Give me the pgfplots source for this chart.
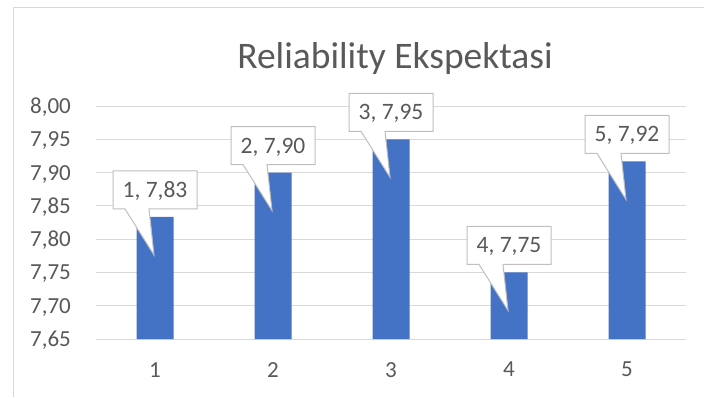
\documentclass[border=0pt]{standalone}
\usepackage{pgfplots}
\pgfplotsset{compat=1.18}
\usepackage{fontspec}
\setmainfont{Carlito}
\definecolor{barblue}{HTML}{4472C4}
\definecolor{txt}{HTML}{595959}
\definecolor{gridc}{HTML}{D9D9D9}
\definecolor{cbord}{HTML}{BFBFBF}
\newcommand{\callout}[2]{%
  \draw[cbord, fill=white, line width=1pt, line join=miter]
    ([shift={(-42pt,8pt)}]#1) -- ([shift={(-30pt,8pt)}]#1) -- ([shift={(-1pt,-38pt)}]#1)
    -- ([shift={(-6pt,8pt)}]#1) -- ([shift={(42pt,8pt)}]#1) -- ([shift={(42pt,46pt)}]#1)
    -- ([shift={(-42pt,46pt)}]#1) -- cycle;
  \node[text=txt, font=\fontsize{23.5}{28}\selectfont, anchor=base] at ([shift={(0pt,19.5pt)}]#1) {#2};}
\begin{document}
\begin{tikzpicture}
\path[use as bounding box] (0,0) rectangle (704pt,397pt);
\draw[gridc, line width=1pt] (13pt,0pt) -- (13pt,389pt) -- (704pt,389pt);
\node[text=txt, font=\fontsize{37.5}{44}\selectfont, anchor=base] at (395pt,328pt) {Reliability Ekspektasi};
\begin{axis}[
  at={(96pt,58pt)}, anchor=south west,
  scale only axis, width=590pt, height=233pt,
  xmin=0.5, xmax=5.5, ymin=7.65, ymax=8.00,
  xtick={1,2,3,4,5}, xticklabels={1,2,3,4,5},
  ytick={7.65,7.70,7.75,7.80,7.85,7.90,7.95,8.00},
  /pgf/number format/.cd, use comma, fixed, fixed zerofill, precision=2, assume math mode=true,
  /pgfplots/.cd,
  axis line style={draw=none},
  major tick length=0pt,
  xmajorgrids=false, ymajorgrids=true,
  major grid style={draw=gridc, line width=1pt},
  tick label style={text=txt, font=\fontsize{23}{27}\selectfont},
  yticklabel style={anchor=base east, inner sep=0pt, xshift=-25pt, yshift=-7.5pt},
  xticklabel style={anchor=north, inner sep=0pt, yshift=-23pt},
  clip=false,
]
\addplot[ybar, bar width=37pt, fill=barblue, draw=none] coordinates {
  (1,7.8333) (2,7.90) (3,7.95) (4,7.75) (5,7.9167)};
\coordinate (t1) at (axis cs:1,7.8333);
\coordinate (t2) at (axis cs:2,7.90);
\coordinate (t3) at (axis cs:3,7.95);
\coordinate (t4) at (axis cs:4,7.75);
\coordinate (t5) at (axis cs:5,7.9167);
\end{axis}
\callout{t1}{1, 7,83}
\callout{t2}{2, 7,90}
\callout{t3}{3, 7,95}
\callout{t4}{4, 7,75}
\callout{t5}{5, 7,92}
\end{tikzpicture}
\end{document}
